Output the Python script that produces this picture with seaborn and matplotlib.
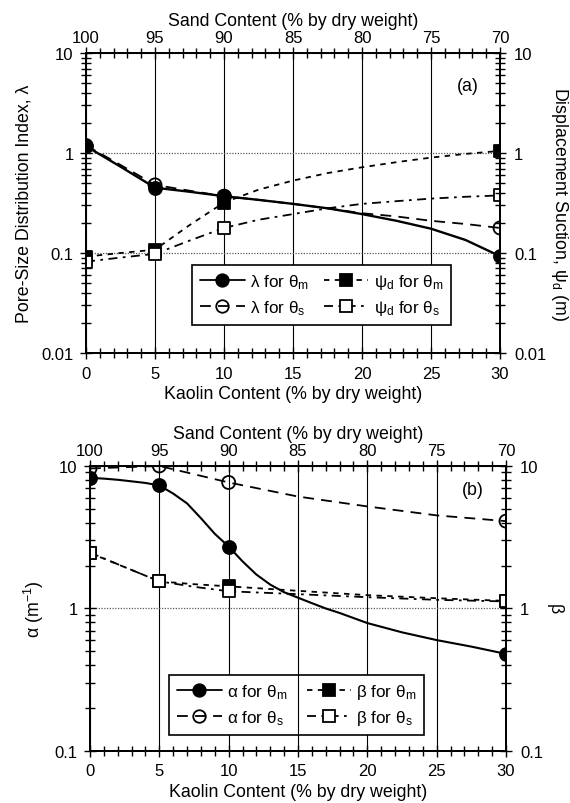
import matplotlib
matplotlib.use("Agg")
import matplotlib.pyplot as plt
import seaborn as sns
from matplotlib.lines import Line2D
from matplotlib.ticker import FixedLocator, FixedFormatter, LogLocator, NullFormatter, MultipleLocator

# ---------------------------------------------------------------- data
kaolin = [0, 5, 10, 30]                      # % kaolin by dry weight
sand_ticks = [100, 95, 90, 85, 80, 75, 70]   # % sand by dry weight (= 100 - kaolin)
kaolin_ticks = [0, 5, 10, 15, 20, 25, 30]

# (a) pore-size distribution index and displacement suction
lam_m = [1.17, 0.45, 0.37, 0.093]
lam_s = [1.19, 0.48, 0.37, 0.178]
psi_m = [0.092, 0.108, 0.32, 1.05]
psi_s = [0.082, 0.098, 0.178, 0.377]

fit_x_a = [0, 2.5, 5, 7.5, 10, 12.5, 15, 17.5, 20, 22.5, 25, 27.5, 30]
lam_m_fit = [1.17, 0.73, 0.45, 0.41, 0.37, 0.34, 0.31, 0.28, 0.245, 0.21, 0.175, 0.135, 0.093]
lam_s_fit = [1.19, 0.76, 0.48, 0.42, 0.37, 0.34, 0.31, 0.28, 0.25, 0.232, 0.21, 0.195, 0.178]
psi_m_fit = [0.092, 0.10, 0.108, 0.19, 0.32, 0.43, 0.53, 0.63, 0.72, 0.81, 0.90, 0.98, 1.05]
psi_s_fit = [0.082, 0.09, 0.098, 0.133, 0.178, 0.215, 0.245, 0.28, 0.31, 0.33, 0.35, 0.365, 0.377]

# (b) alpha and beta parameters
alpha_m = [8.25, 7.3, 2.72, 0.48]
alpha_s = [9.6, 10.0, 7.66, 4.1]
beta_m = [2.45, 1.55, 1.43, 1.13]
beta_s = [2.47, 1.55, 1.32, 1.12]

alpha_m_fit_x = [0, 1, 2, 3, 4, 5, 6, 7, 8, 9, 10, 11, 12, 13, 14, 15, 16, 17, 18,
                 20, 22.5, 25, 27.5, 30]
alpha_m_fit = [8.25, 8.15, 8.0, 7.8, 7.6, 7.3, 6.4, 5.46, 4.3, 3.34, 2.72, 2.14, 1.73,
               1.47, 1.30, 1.19, 1.09, 1.0, 0.93, 0.79, 0.68, 0.60, 0.54, 0.48]
alpha_s_fit_x = [0, 5, 10, 15, 20, 25, 30]
alpha_s_fit = [9.6, 10.0, 7.66, 6.1, 5.2, 4.5, 4.1]
beta_fit_x = [0, 2.5, 5, 7.5, 10, 15, 20, 25, 30]
beta_m_fit = [2.45, 1.95, 1.55, 1.48, 1.43, 1.33, 1.24, 1.18, 1.13]
beta_s_fit = [2.47, 1.95, 1.55, 1.42, 1.32, 1.26, 1.20, 1.15, 1.12]

# ---------------------------------------------------------------- style
sns.set_theme(style="white")
plt.rcParams["font.family"] = ["Liberation Sans", "DejaVu Sans"]
plt.rcParams["mathtext.default"] = "regular"
plt.rcParams["axes.edgecolor"] = "black"
plt.rcParams["axes.linewidth"] = 1.2
plt.rcParams["xtick.color"] = "black"
plt.rcParams["ytick.color"] = "black"
plt.rcParams["text.color"] = "black"
plt.rcParams["axes.labelcolor"] = "black"

TICK_FS = 12
LAB_FS = 12.8
LEG_FS = 12.3

LS_SOLID = "-"
LS_LONG = (0, (6, 4))
LS_SHORT = (0, (3, 3))
LS_DASHDOT = (0, (5, 3, 1.5, 3))

fig = plt.figure(figsize=(5.7, 8.04), dpi=100)
ax_a = fig.add_axes([0.1509, 0.5597, 0.7263, 0.3731])
ax_b = fig.add_axes([0.1579, 0.0647, 0.7298, 0.3545])


def fit_line(ax, x, y, ls, lw=1.3):
    sns.lineplot(x=x, y=y, ax=ax, color="black", linestyle=ls, linewidth=lw,
                 zorder=3, legend=False)


def marks(ax, x, y, marker, filled, white=False, size=88):
    if filled:
        fc = "black"
    else:
        fc = "white" if white else "none"
    sns.scatterplot(x=x, y=y, ax=ax, marker=marker, s=size, facecolor=fc,
                    edgecolor="black", linewidth=1.3, zorder=5, legend=False)


def frame(ax, ylim, yticks, ylabels, left_label, right_label):
    ax.set_yscale("log")
    ax.set_xlim(0, 30)
    ax.set_ylim(*ylim)
    ax.xaxis.set_major_locator(FixedLocator(kaolin_ticks))
    ax.xaxis.set_minor_locator(MultipleLocator(1))
    ax.yaxis.set_major_locator(FixedLocator(yticks))
    ax.yaxis.set_major_formatter(FixedFormatter(ylabels))
    ax.yaxis.set_minor_locator(LogLocator(base=10, subs=range(2, 10)))
    ax.yaxis.set_minor_formatter(NullFormatter())
    ax.xaxis.grid(True, which="major", color="black", lw=0.8, ls="-", zorder=1)
    ax.yaxis.grid(True, which="major", color="0.35", lw=0.9, ls=(0, (1, 1.2)), zorder=1)
    ax.set_axisbelow(True)
    ax.tick_params(which="both", direction="inout", width=1.0, labelsize=TICK_FS,
                   top=False, right=False, bottom=True, left=True)
    ax.tick_params(which="major", length=8)
    ax.tick_params(which="minor", length=7)
    ax.tick_params(axis="x", pad=5)
    ax.tick_params(axis="y", pad=5)
    ax.set_xlabel("Kaolin Content (% by dry weight)", fontsize=LAB_FS, labelpad=3)
    ax.set_ylabel(left_label, fontsize=LAB_FS, labelpad=6)

    top = ax.twiny()
    top.set_xlim(100, 70)
    top.xaxis.set_major_locator(FixedLocator(sand_ticks))
    top.xaxis.set_minor_locator(MultipleLocator(1))
    top.tick_params(which="both", direction="inout", width=1.0, labelsize=TICK_FS,
                    top=True, bottom=False, pad=1.5)
    top.tick_params(which="major", length=8)
    top.tick_params(which="minor", length=7)
    top.set_xlabel("Sand Content (% by dry weight)", fontsize=LAB_FS, labelpad=4)
    top.grid(False)

    right = ax.twinx()
    right.set_yscale("log")
    right.set_ylim(*ylim)
    right.yaxis.set_major_locator(FixedLocator(yticks))
    right.yaxis.set_major_formatter(FixedFormatter(ylabels))
    right.yaxis.set_minor_locator(LogLocator(base=10, subs=range(2, 10)))
    right.yaxis.set_minor_formatter(NullFormatter())
    right.tick_params(which="both", direction="inout", width=1.0, labelsize=TICK_FS,
                      right=True, left=False, pad=6)
    right.tick_params(which="major", length=8)
    right.tick_params(which="minor", length=7)
    right.set_ylabel(right_label, fontsize=LAB_FS, rotation=270, va="bottom", labelpad=2)
    right.grid(False)
    for a in (ax, top, right):
        for s in a.spines.values():
            s.set_linewidth(1.2)
            s.set_color("black")
    return right


def handle(ls, marker, filled, white=False):
    if filled:
        fc = "black"
    else:
        fc = "white" if white else "none"
    return Line2D([], [], color="black", linestyle=ls, linewidth=1.3, marker=marker,
                  markersize=9 if marker == "o" else 8.5, markerfacecolor=fc,
                  markeredgecolor="black", markeredgewidth=1.3)


def legend(ax, handles, labels, bbox):
    leg = ax.legend(handles, labels, ncol=2, loc="center", bbox_to_anchor=bbox,
                    mode="expand", fontsize=LEG_FS, frameon=True, fancybox=False,
                    framealpha=1, edgecolor="black", borderaxespad=0, handlelength=2.6,
                    handletextpad=0.3, columnspacing=0.6, labelspacing=0.4,
                    borderpad=0.45, numpoints=1)
    leg.get_frame().set_linewidth(1.2)
    leg.set_zorder(6)
    return leg


# ---------------------------------------------------------------- panel (a)
fit_line(ax_a, fit_x_a, lam_m_fit, LS_SOLID, lw=1.7)
fit_line(ax_a, fit_x_a, lam_s_fit, LS_LONG)
fit_line(ax_a, fit_x_a, psi_m_fit, LS_SHORT)
fit_line(ax_a, fit_x_a, psi_s_fit, LS_DASHDOT)
marks(ax_a, kaolin, psi_m, "s", True, size=78)
marks(ax_a, kaolin, psi_s, "s", False, white=True, size=78)
marks(ax_a, kaolin, lam_s, "o", False)
marks(ax_a, kaolin, lam_m, "o", True)

frame(ax_a, (0.01, 10), [0.01, 0.1, 1, 10], ["0.01", "0.1", "1", "10"],
      "Pore-Size Distribution Index, λ", "Displacement Suction, ψ$_d$ (m)")
ax_a.text(0.923, 0.893, "(a)", transform=ax_a.transAxes, fontsize=LAB_FS,
          ha="center", va="center")

legend(ax_a,
       [handle(LS_SOLID, "o", True), handle(LS_LONG, "o", False),
        handle(LS_SHORT, "s", True), handle(LS_DASHDOT, "s", False, white=True)],
       ["λ for θ$_m$", "λ for θ$_s$", "ψ$_d$ for θ$_m$", "ψ$_d$ for θ$_s$"],
       (0.257, 0.077, 0.625, 0.234))

# ---------------------------------------------------------------- panel (b)
fit_line(ax_b, alpha_m_fit_x, alpha_m_fit, LS_SOLID, lw=1.5)
fit_line(ax_b, alpha_s_fit_x, alpha_s_fit, LS_LONG)
fit_line(ax_b, beta_fit_x, beta_m_fit, LS_SHORT)
fit_line(ax_b, beta_fit_x, beta_s_fit, LS_DASHDOT)
marks(ax_b, kaolin, beta_m, "s", True, size=78)
marks(ax_b, kaolin, beta_s, "s", False, white=True, size=78)
marks(ax_b, kaolin, alpha_s, "o", False)
marks(ax_b, kaolin, alpha_m, "o", True)

frame(ax_b, (0.1, 10), [0.1, 1, 10], ["0.1", "1", "10"], "α (m$^{-1}$)", "β")
ax_b.text(0.921, 0.919, "(b)", transform=ax_b.transAxes, fontsize=LAB_FS,
          ha="center", va="center")

legend(ax_b,
       [handle(LS_SOLID, "o", True), handle(LS_LONG, "o", False),
        handle(LS_SHORT, "s", True), handle(LS_DASHDOT, "s", False, white=True)],
       ["α for θ$_m$", "α for θ$_s$", "β for θ$_m$", "β for θ$_s$"],
       (0.191, 0.056, 0.613, 0.212))
# column divider of the (b) legend, on the 15 % kaolin line
ax_b.axvline(kaolin_ticks[3], ymin=0.056, ymax=0.268, color="black", lw=0.8, zorder=7)

fig.savefig("out.png", dpi=100)
